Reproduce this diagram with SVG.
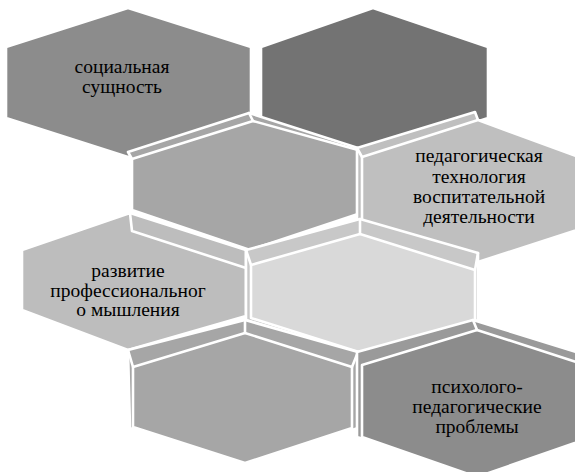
<svg xmlns="http://www.w3.org/2000/svg" width="575" height="472" viewBox="0 0 575 472">
<style>
.e{stroke:#fff;stroke-width:2.6;stroke-linejoin:round;stroke-linecap:round}
.r{stroke:#fff;stroke-width:2.6;stroke-linecap:round;fill:none}
text{font-family:'Liberation Serif','DejaVu Serif',serif;font-size:19.5px;fill:#000;text-anchor:middle}
</style>
<rect width="575" height="472" fill="#fff"/>
<g id="hex-social">
<polygon class="e" fill="#8c8c8c" points="128,8 251,47 251,118 128,157 6,118 6,47"/>
<text x="122" y="73">социальная</text>
<text x="122" y="93">сущность</text>
</g>
<g id="hex-dark">
<polygon class="e" fill="#737373" points="373,8 488,47 488,118 373,156 261,118 261,47"/>
</g>
<g id="hex-grey-upper">
<polygon class="e" fill="#a6a6a6" points="128,152 249,113 358,148 358,214 250,250 132,210 132,159"/>
<polygon class="e" fill="#a6a6a6" points="132,159 253,121 358,150 358,214 250,250 132,210"/>
<line class="r" x1="249" y1="113" x2="253" y2="121"/>
</g>
<g id="hex-technology">
<polygon class="e" fill="#bfbfbf" points="357,148 475,112 478,120 592,162 592,225 478,262 357,222"/>
<polygon class="e" fill="#bfbfbf" points="362,157 478,120 592,162 592,225 478,262 362,222"/>
<line class="r" x1="357" y1="148" x2="362" y2="157"/>
<text x="479" y="162">педагогическая</text>
<text x="479" y="183">технология</text>
<text x="479" y="203">воспитательной</text>
<text x="479" y="223">деятельности</text>
</g>
<g id="hex-thinking">
<polygon class="e" fill="#bdbdbd" points="22,250 130,213 246,250 246,316 128,350 22,310"/>
<polygon class="e" fill="#bdbdbd" points="22,250 130,213 132,231 246,268 246,316 128,350 22,310"/>
<text x="128" y="277">развитие</text>
<text x="128" y="297">профессиональног</text>
<text x="128" y="316">о мышления</text>
</g>
<g id="hex-center">
<polygon class="e" fill="#c8c8c8" points="246,250 360,219 478,253 478,320 362,355 246,320"/>
<polygon class="e" fill="#d9d9d9" points="251,265 360,234 475,270 475,320 362,353 251,318"/>
<line class="r" x1="360" y1="219" x2="360" y2="234"/>
<line class="r" x1="246" y1="250" x2="251" y2="265"/>
<line class="r" x1="478" y1="253" x2="475" y2="270"/>
</g>
<g id="hex-grey-lower">
<polygon class="e" fill="#a6a6a6" points="128,350 245,320 358,352 358,428 245,465 130,428"/>
<polygon class="e" fill="#a6a6a6" points="133,367 245,333 352,367 352,428 245,463 133,427"/>
<line class="r" x1="245" y1="320" x2="245" y2="333"/>
<line class="r" x1="128" y1="350" x2="133" y2="367"/>
<line class="r" x1="358" y1="352" x2="352" y2="367"/>
</g>
<g id="hex-problems">
<polygon class="e" fill="#9a9a9a" points="357,352 473,320 592,357 592,437 477,477 357,437"/>
<polygon class="e" fill="#8c8c8c" points="362,365 477,330 592,367 592,437 477,477 362,437"/>
<line class="r" x1="473" y1="320" x2="477" y2="330"/>
<text x="477" y="393">психолого-</text>
<text x="477" y="413">педагогические</text>
<text x="477" y="433">проблемы</text>
</g>
</svg>
